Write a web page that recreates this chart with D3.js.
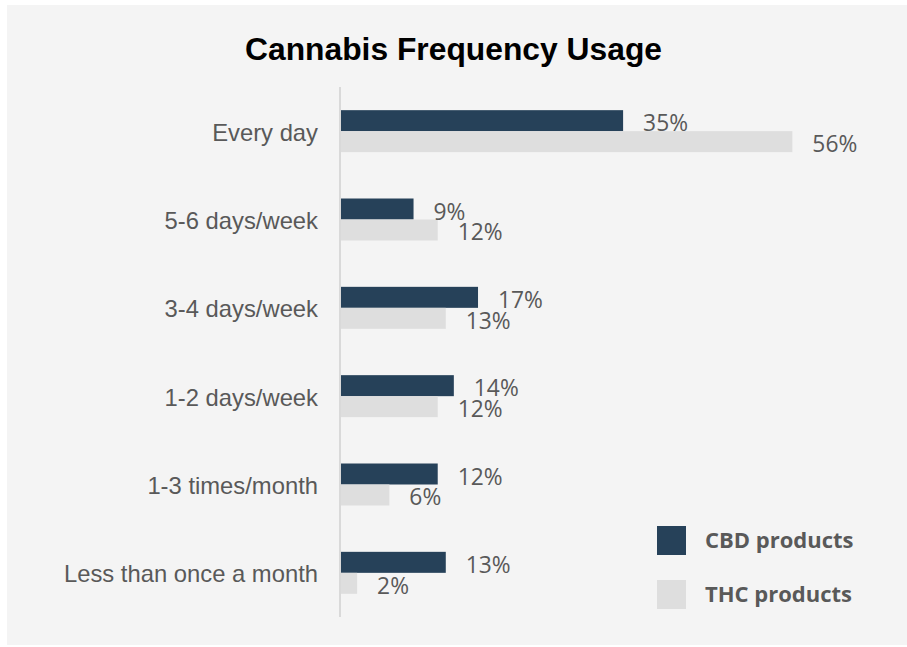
<!DOCTYPE html>
<html>
<head>
<meta charset="utf-8">
<script src="https://cdn.jsdelivr.net/npm/d3@7"></script>
<style>
  html, body { margin: 0; padding: 0; background: #ffffff; }
  svg { display: block; }
</style>
</head>
<body>
<svg id="chart" width="907" height="647"></svg>
<script>
// Usage frequency categories, top to bottom
const categories = [
  "Every day",
  "5-6 days/week",
  "3-4 days/week",
  "1-2 days/week",
  "1-3 times/month",
  "Less than once a month"
];
// Share of respondents (%) per product type
const cbdValues = [35, 9, 17, 14, 12, 13];
const thcValues = [56, 12, 13, 12, 6, 2];
const seriesNames = ["CBD products", "THC products"];
const seriesColors = ["#264159", "#dedede"];

const svg = d3.select("#chart");
const W = 907, H = 647;

// panel background
svg.append("rect")
  .attr("x", 7).attr("y", 5)
  .attr("width", W - 7).attr("height", H - 7)
  .attr("fill", "#f4f4f4");

// title
svg.append("text")
  .attr("x", 453.5).attr("y", 60)
  .attr("text-anchor", "middle")
  .attr("font-family", "Liberation Sans, Arial, sans-serif")
  .attr("font-weight", "bold")
  .attr("font-size", 31.8)
  .attr("fill", "#000000")
  .text("Cannabis Frequency Usage");

const x = d3.scaleLinear().domain([0, 100]).range([341, 341 + 806]);
const y = d3.scaleBand().domain(categories)
  .range([87, 617])
  .paddingInner(0.5245)
  .paddingOuter(0.26225);
const ySub = d3.scaleBand().domain(seriesNames).range([0, y.bandwidth()]);

const rows = categories.map((c, i) => ({
  category: c,
  values: [
    { series: seriesNames[0], value: cbdValues[i], color: seriesColors[0] },
    { series: seriesNames[1], value: thcValues[i], color: seriesColors[1] }
  ]
}));

// vertical category axis line
svg.append("line")
  .attr("x1", 340).attr("x2", 340)
  .attr("y1", 87).attr("y2", 617)
  .attr("stroke", "#d9d9d9")
  .attr("stroke-width", 2);

// category labels
svg.append("g").selectAll("text")
  .data(categories)
  .join("text")
  .attr("x", 318)
  .attr("y", d => y(d) + y.bandwidth() / 2 + 9.5)
  .attr("text-anchor", "end")
  .attr("font-family", "Liberation Sans, Arial, sans-serif")
  .attr("font-size", 23.8)
  .attr("fill", "#595959")
  .text(d => d);

const groups = svg.append("g").selectAll("g")
  .data(rows)
  .join("g")
  .attr("transform", d => `translate(0,${y(d.category)})`);

groups.selectAll("rect")
  .data(d => d.values)
  .join("rect")
  .attr("x", x(0))
  .attr("y", d => ySub(d.series))
  .attr("width", d => x(d.value) - x(0))
  .attr("height", ySub.bandwidth())
  .attr("fill", d => d.color);

groups.selectAll("text")
  .data(d => d.values)
  .join("text")
  .attr("x", d => x(d.value) + 20)
  .attr("y", d => ySub(d.series) + ySub.bandwidth() / 2 + 10.5)
  .attr("font-family", "Open Sans, Noto Sans, sans-serif")
  .attr("font-size", 22.8)
  .attr("fill", "#595959")
  .text(d => d.value + "%");

// legend
const legend = svg.append("g").selectAll("g")
  .data(seriesNames)
  .join("g")
  .attr("transform", (d, i) => `translate(657,${526 + i * 54})`);

legend.append("rect")
  .attr("width", 29).attr("height", 29)
  .attr("fill", (d, i) => seriesColors[i]);

legend.append("text")
  .attr("x", 48).attr("y", 22)
  .attr("font-family", "Open Sans, Noto Sans, sans-serif")
  .attr("font-weight", "bold")
  .attr("font-size", 22)
  .attr("fill", "#595959")
  .text(d => d);
</script>
</body>
</html>
